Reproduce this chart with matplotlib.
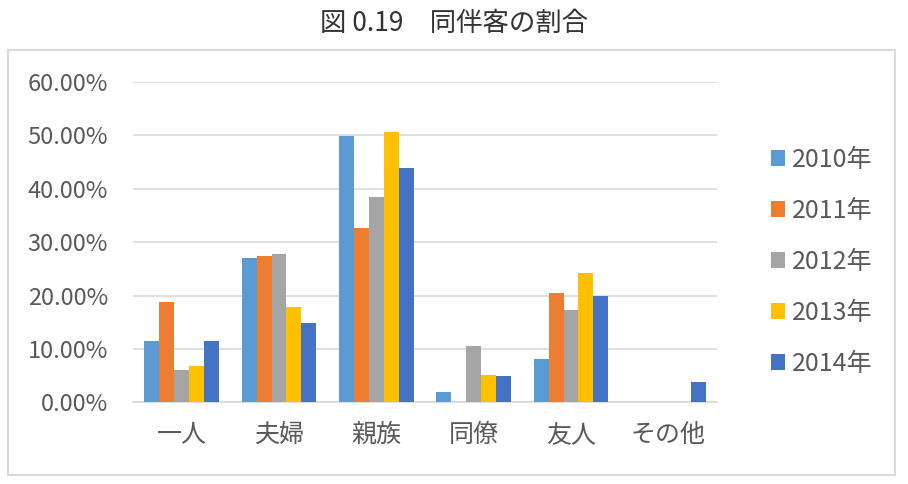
import numpy as np
from matplotlib import pyplot as plt
from matplotlib.patches import Rectangle

plt.rcParams['font.family'] = ['Noto Sans CJK JP', 'DejaVu Sans']

# categories and yearly shares (fraction of visitors)
categories = ["一人", "夫婦", "親族", "同僚", "友人", "その他"]
years = ["2010年", "2011年", "2012年", "2013年", "2014年"]
v2010 = [0.115, 0.271, 0.498, 0.019, 0.081, 0.0]
v2011 = [0.188, 0.274, 0.326, 0.0, 0.205, 0.0]
v2012 = [0.061, 0.278, 0.385, 0.106, 0.173, 0.0]
v2013 = [0.068, 0.178, 0.506, 0.052, 0.243, 0.0]
v2014 = [0.115, 0.148, 0.439, 0.049, 0.199, 0.038]
series = [v2010, v2011, v2012, v2013, v2014]
colors = ["#5B9BD5", "#ED7D31", "#A5A5A5", "#FFC000", "#4472C4"]

fig = plt.figure(figsize=(9.08, 4.84), dpi=100)

# light frame around the chart area
fig.patches.append(Rectangle((0.0088, 0.0186), 0.977, 0.878, transform=fig.transFigure,
                             fill=False, edgecolor="#D9D9D9", linewidth=1.5))

fig.text(0.5, 0.952, "図 0.19\u3000同伴客の割合", ha="center", va="center",
         fontsize=19, color="#333333")

ax = fig.add_axes([0.1465, 0.1684, 0.6431, 0.6628])

x = np.arange(len(categories))
w = 0.153
for i, vals in enumerate(series):
    ax.bar(x + (i - 2) * w, vals, width=w, color=colors[i], label=years[i], zorder=3)

ax.set_xlim(-0.5, len(categories) - 0.5)
ax.set_ylim(0, 0.6)
ax.set_yticks(np.arange(0, 0.61, 0.1))
ax.set_yticklabels(["%.2f%%" % (t * 100) for t in np.arange(0, 0.61, 0.1)])
ax.set_xticks(x)
ax.set_xticklabels(categories)
ax.grid(axis="y", color="#D9D9D9", linewidth=1.2, zorder=0)
for s in ["top", "right", "left"]:
    ax.spines[s].set_visible(False)
ax.spines["bottom"].set_color("#D9D9D9")
ax.spines["bottom"].set_linewidth(1.2)
ax.tick_params(axis="y", length=0, pad=18, labelsize=17, labelcolor="#595959")
ax.tick_params(axis="x", length=0, pad=14, labelsize=18, labelcolor="#595959")

fig.legend(loc="center left", bbox_to_anchor=(0.838, 0.459), frameon=False,
           fontsize=18, labelcolor="#595959", handlelength=0.55, handleheight=0.55,
           handletextpad=0.3, labelspacing=1.0, borderaxespad=0)

plt.savefig("out.png", dpi=100)
